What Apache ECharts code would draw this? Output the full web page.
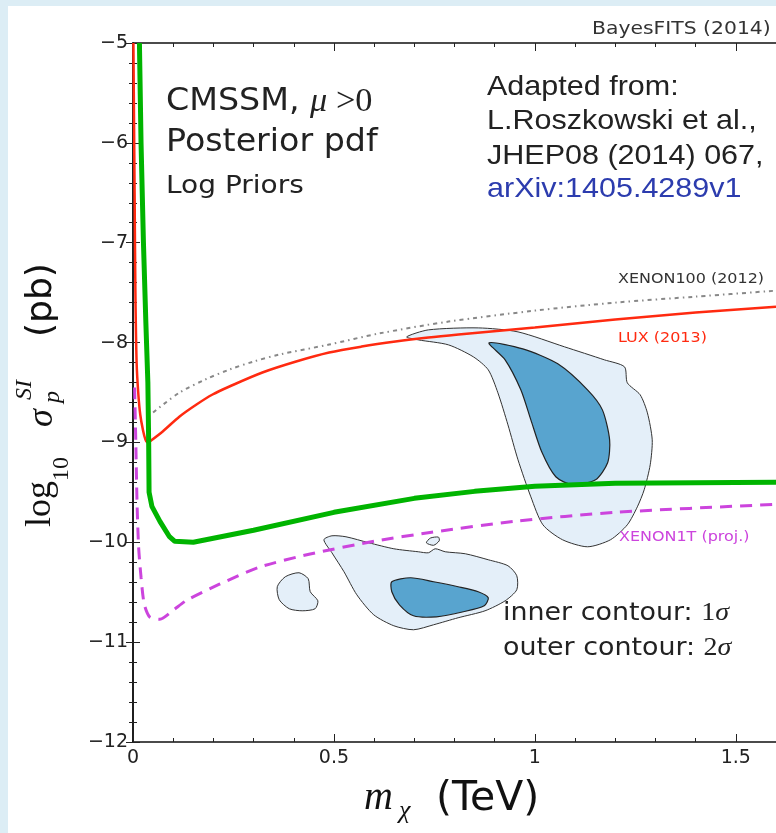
<!DOCTYPE html>
<html>
<head>
<meta charset="utf-8">
<script src="https://cdn.jsdelivr.net/npm/echarts@6/dist/echarts.min.js"></script>
<style>
  html, body { margin: 0; padding: 0; background: #fff; }
  #chart { width: 776px; height: 833px; }
</style>
</head>
<body>
<div id="chart"></div>
<script>
// ---------------- data (m_chi in TeV, log10 sigma in pb) ----------------
const xRange = [0, 1.6]
const yRange = [-12, -5]
const xTickLabels = { 0: '0', 0.5: '0.5', 1: '1', 1.5: '1.5' }

const luxCurve = [
  [0.001, -5], [0.004, -6.5], [0.006, -7.5], [0.009, -8.2], [0.013, -8.5],
  [0.018, -8.72], [0.025, -8.88], [0.031, -8.97], [0.037, -9.0], [0.045, -8.98],
  [0.074, -8.89], [0.116, -8.74], [0.158, -8.62], [0.198, -8.52], [0.24, -8.44],
  [0.322, -8.3], [0.406, -8.19], [0.488, -8.1], [0.569, -8.04], [0.653, -7.99],
  [0.735, -7.95], [0.81, -7.92], [1.0, -7.85], [1.2, -7.77], [1.4, -7.7], [1.6, -7.64]
]
const xenon100Curve = [
  [0.05, -8.7], [0.116, -8.5], [0.18, -8.37], [0.24, -8.27], [0.3, -8.19],
  [0.364, -8.12], [0.488, -8.02], [0.611, -7.91], [0.785, -7.79], [1.0, -7.68],
  [1.2, -7.6], [1.4, -7.54], [1.6, -7.48]
]
const xenon1tCurve = [
  [0.004, -8.45], [0.007, -9.0], [0.01, -9.6], [0.014, -10.05], [0.02, -10.35],
  [0.028, -10.62], [0.042, -10.75], [0.067, -10.77], [0.1, -10.68], [0.134, -10.58],
  [0.215, -10.42], [0.314, -10.25], [0.438, -10.12], [0.6, -9.99], [0.743, -9.9],
  [0.95, -9.79], [1.2, -9.7], [1.6, -9.62]
]
const greenCurve = [
  [0.016, -5], [0.02, -6], [0.026, -7], [0.032, -7.8], [0.037, -8.4], [0.039, -9],
  [0.04, -9.5], [0.047, -9.64], [0.067, -9.79], [0.09, -9.94], [0.104, -9.99],
  [0.15, -10.0], [0.3, -9.88], [0.5, -9.7], [0.7, -9.56], [0.85, -9.49],
  [1.0, -9.44], [1.2, -9.41], [1.6, -9.4]
]

// 2 sigma / 1 sigma regions
const outerHigh = [
  [0.681, -7.943], [0.735, -7.873], [0.859, -7.853], [0.958, -7.893], [1.074, -8.043],
  [1.173, -8.173], [1.223, -8.243], [1.230, -8.403], [1.262, -8.523], [1.280, -8.704],
  [1.292, -8.974], [1.287, -9.224], [1.272, -9.474], [1.255, -9.645], [1.230, -9.825],
  [1.188, -9.975], [1.131, -10.045], [1.069, -9.975], [1.020, -9.825], [0.990, -9.545],
  [0.958, -9.174], [0.933, -8.824], [0.908, -8.503], [0.884, -8.273], [0.847, -8.143],
  [0.785, -8.023], [0.710, -7.973]
]
const innerHigh = [
  [0.886, -8.003], [0.970, -8.063], [1.057, -8.213], [1.131, -8.473], [1.168, -8.674],
  [1.186, -8.974], [1.181, -9.204], [1.151, -9.374], [1.094, -9.424], [1.052, -9.344],
  [1.017, -9.094], [0.990, -8.774], [0.965, -8.473], [0.926, -8.173]
]
const outerLow = [
  [0.475, -9.975], [0.495, -9.935], [0.530, -9.945], [0.587, -10.005], [0.649, -10.065],
  [0.710, -10.095], [0.735, -10.105], [0.752, -10.065], [0.777, -10.095], [0.827, -10.115],
  [0.884, -10.175], [0.933, -10.235], [0.955, -10.335], [0.955, -10.475], [0.926, -10.586],
  [0.876, -10.686], [0.809, -10.756], [0.748, -10.826], [0.698, -10.876], [0.649, -10.836],
  [0.599, -10.726], [0.557, -10.526], [0.525, -10.295], [0.495, -10.105]
]
const innerLow = [
  [0.644, -10.395], [0.691, -10.355], [0.748, -10.395], [0.809, -10.445], [0.859, -10.495],
  [0.884, -10.556], [0.874, -10.636], [0.822, -10.696], [0.755, -10.746], [0.698, -10.736],
  [0.663, -10.626], [0.644, -10.495]
]
const outerIsland = [
  [0.413, -10.305], [0.436, -10.365], [0.441, -10.495], [0.460, -10.586], [0.453, -10.666],
  [0.421, -10.686], [0.389, -10.666], [0.364, -10.576], [0.359, -10.445], [0.379, -10.345]
]
const outerSpeck = [
  [0.730, -10.005], [0.740, -9.958], [0.760, -9.948], [0.762, -9.985], [0.748, -10.03]
]

// ---------------- helpers ----------------
const minus = (v) => (v < 0 ? '\u2212' + Math.abs(v) : String(v))

const polygon = (points, fill, stroke, lw) => ({
  type: 'custom',
  xAxisIndex: 0,
  yAxisIndex: 0,
  silent: true,
  data: points,
  renderItem: (params, api) => {
    if (params.dataIndex !== 0) return
    return {
      type: 'polygon',
      shape: { points: points.map((p) => api.coord(p)), smooth: 0.25 },
      style: { fill: fill, stroke: stroke, lineWidth: lw }
    }
  }
})

const curve = (points, color, width, type, z, smooth) => ({
  type: 'line',
  data: points,
  showSymbol: false,
  silent: true,
  smooth: smooth,
  z: z,
  lineStyle: { color: color, width: width, type: type }
})

// text placed by its baseline
const txt = (x, base, text, size, family, color, sx, extra) =>
  Object.assign(
    {
      type: 'text',
      x: x,
      y: base - size * 0.34,
      scaleX: sx || 1,
      silent: true,
      z: 100,
      style: {
        text: text,
        fontSize: size,
        fontFamily: family,
        fill: color,
        verticalAlign: 'middle',
        align: 'left'
      }
    },
    extra || {}
  )

const SANS = '"DejaVu Sans"'
const ARIAL = '"Liberation Sans"'
const SERIF = '"Liberation Serif"'

const tickAxis = (pos, interval, len, showLine, showLabel, extra) =>
  Object.assign(
    {
      type: 'value',
      position: pos,
      min: pos === 'left' || pos === 'right' ? yRange[0] : xRange[0],
      max: pos === 'left' || pos === 'right' ? yRange[1] : xRange[1],
      interval: interval,
      axisLine: { show: showLine, lineStyle: { color: '#111', width: 1.5 } },
      axisTick: { show: true, inside: true, length: len, lineStyle: { color: '#222', width: 1 } },
      axisLabel: { show: showLabel },
      splitLine: { show: false }
    },
    extra || {}
  )

const richLine = (x, base, label, digit) =>
  txt(x, base, '', 24, SANS, '#222', 1.12, {
    style: {
      text: '{a|' + label + '}{n|' + digit + '}{m|\u03c3}',
      verticalAlign: 'middle',
      rich: {
        a: { fontSize: 24, fontFamily: 'DejaVu Sans', fill: '#222' },
        n: { fontSize: 25, fontFamily: 'Liberation Serif', fill: '#222' },
        m: { fontSize: 25, fontFamily: 'Liberation Serif', fontStyle: 'italic', fill: '#222' }
      }
    }
  })

const chart = echarts.init(document.getElementById('chart'))

const option = {
  backgroundColor: '#fff',
  animation: false,
  grid: { left: 133, right: -3, top: 43, bottom: 91, containLabel: false },
  xAxis: [
    tickAxis('bottom', 0.5, 8, true, true, {
      axisLabel: {
        show: true,
        margin: 7,
        fontSize: 19,
        fontFamily: 'DejaVu Sans',
        color: '#222',
        showMaxLabel: false,
        formatter: (v) => (xTickLabels[v] !== undefined ? xTickLabels[v] : '')
      }
    }),
    tickAxis('bottom', 0.1, 4, false, false),
    tickAxis('top', 0.5, 8, true, false),
    tickAxis('top', 0.1, 4, false, false)
  ],
  yAxis: [
    tickAxis('left', 1, 7, true, true, {
      minorTick: { show: true, splitNumber: 5, length: 4, lineStyle: { color: '#222' } },
      axisLabel: {
        show: true,
        margin: 5,
        fontSize: 19,
        fontFamily: 'DejaVu Sans',
        color: '#222',
        formatter: minus
      }
    }),
    tickAxis('right', 1, 7, true, false, {
      minorTick: { show: true, splitNumber: 5, length: 4, lineStyle: { color: '#222' } }
    })
  ],
  series: [
    polygon(outerHigh, '#e4eff9', '#333', 1),
    polygon(innerHigh, '#58a4cf', '#222', 1.2),
    polygon(outerLow, '#e4eff9', '#333', 1),
    polygon(innerLow, '#58a4cf', '#222', 1.2),
    polygon(outerIsland, '#e4eff9', '#333', 1),
    polygon(outerSpeck, '#e4eff9', '#333', 1),
    curve(xenon100Curve, '#888', 2, [4, 4, 1.5, 4], 3, 0.3),
    curve(luxCurve, '#ff2a10', 2.5, 'solid', 4, 0.3),
    curve(xenon1tCurve, '#cc44dd', 3, [12, 8], 5, 0.25),
    curve(greenCurve, '#00b400', 5, 'solid', 6, false)
  ],
  graphic: [
    { type: 'rect', shape: { x: 0, y: 0, width: 8, height: 833 }, style: { fill: '#dcedf5' }, silent: true },
    { type: 'rect', shape: { x: 0, y: 0, width: 776, height: 6 }, style: { fill: '#dcedf5' }, silent: true },

    txt(592, 35, 'BayesFITS (2014)', 18, SANS, '#333', 1.13),

    txt(166, 113, '', 32, SANS, '#222', 1.04, {
      style: {
        text: '{a|CMSSM, }{m|\u03bc}{b| >0}',
        verticalAlign: 'middle',
        fill: '#222',
        rich: {
          a: { fontSize: 32, fontFamily: 'DejaVu Sans', fill: '#222' },
          m: { fontSize: 33, fontFamily: 'Liberation Serif', fontStyle: 'italic', fill: '#222' },
          b: { fontSize: 33, fontFamily: 'Liberation Serif', fill: '#222' }
        }
      }
    }),
    txt(166, 154, 'Posterior pdf', 32, SANS, '#222', 1.04),
    txt(166, 195, 'Log Priors', 25, SANS, '#222', 1.12),

    txt(487, 97, 'Adapted from:', 28, ARIAL, '#222', 1.09),
    txt(487, 131, 'L.Roszkowski et al.,', 28, ARIAL, '#222', 1.09),
    txt(487, 166, 'JHEP08 (2014) 067,', 28, ARIAL, '#222', 1.09),
    txt(487, 199, 'arXiv:1405.4289v1', 28, ARIAL, '#2c3cae', 1.09),

    txt(618, 284, 'XENON100 (2012)', 14, SANS, '#333', 1.14),
    txt(618, 343, 'LUX (2013)', 14, SANS, '#ff2a10', 1.14),
    txt(619, 542, 'XENON1T (proj.)', 14, SANS, '#cc44dd', 1.14),

    richLine(503, 622, 'inner contour: ', '1'),
    richLine(503, 657, 'outer contour: ', '2'),

    // x axis title
    txt(364, 812, '', 40, SERIF, '#111', 1, { style: { text: 'm', fontSize: 40, fontFamily: SERIF, fontStyle: 'italic', fill: '#111', verticalAlign: 'middle' } }),
    txt(399, 820, '', 26, SERIF, '#111', 1, { style: { text: '\u03c7', fontSize: 26, fontFamily: SERIF, fontStyle: 'italic', fill: '#111', verticalAlign: 'middle' } }),
    txt(436, 813, '(TeV)', 41, SANS, '#111', 1),

    // y axis title, rotated to read upward
    {
      type: 'group',
      x: 53,
      y: 527,
      rotation: Math.PI / 2,
      silent: true,
      z: 100,
      children: [
        { type: 'text', x: 0, y: -12, style: { text: 'log', fontSize: 36, fontFamily: SERIF, fill: '#111', verticalAlign: 'middle' } },
        { type: 'text', x: 46, y: 8.5, style: { text: '10', fontSize: 24, fontFamily: SERIF, fill: '#111', verticalAlign: 'middle' } },
        { type: 'text', x: 100, y: -10, style: { text: '\u03c3', fontSize: 36, fontFamily: SERIF, fontStyle: 'italic', fill: '#111', verticalAlign: 'middle' } },
        { type: 'text', x: 127, y: -28.5, style: { text: 'SI', fontSize: 24, fontFamily: SERIF, fontStyle: 'italic', fill: '#111', verticalAlign: 'middle' } },
        { type: 'text', x: 124, y: 0, style: { text: 'p', fontSize: 24, fontFamily: SERIF, fontStyle: 'italic', fill: '#111', verticalAlign: 'middle' } },
        { type: 'text', x: 190, y: -11, style: { text: '(pb)', fontSize: 36, fontFamily: SANS, fill: '#111', verticalAlign: 'middle' } }
      ]
    }
  ]
}

chart.setOption(option)
</script>
</body>
</html>
